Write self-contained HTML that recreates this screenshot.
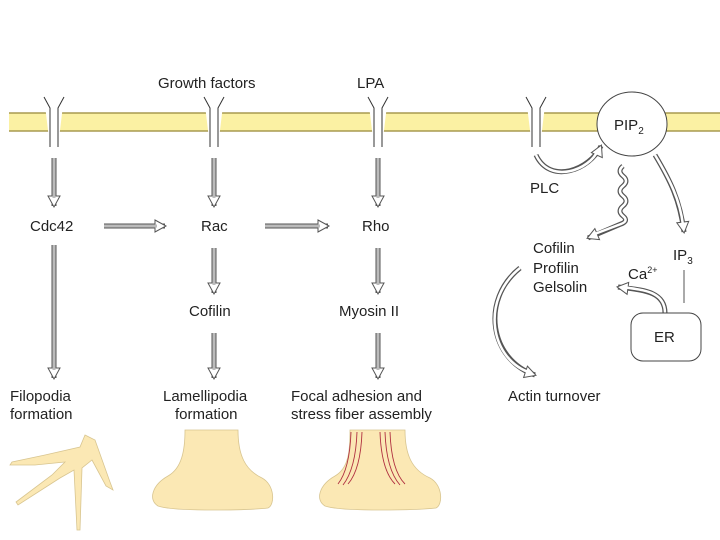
<!DOCTYPE html>
<html><head><style>body{margin:0;background:#fff}svg{display:block}text{font-family:"Liberation Sans",sans-serif;font-size:15px;fill:#222}</style></head><body>
<svg width="720" height="540" viewBox="0 0 720 540">
<defs>
<marker id="ah" markerWidth="14" markerHeight="14" refX="11" refY="7" orient="auto" markerUnits="userSpaceOnUse"><path d="M1,1 L12,7 L1,13 Z" fill="#fff" stroke="#555" stroke-width="1"/></marker>
</defs>
<rect x="9" y="113" width="711" height="18" fill="#fbf1a3"/>
<line x1="9" y1="113" x2="720" y2="113" stroke="#a89a50" stroke-width="1.5"/>
<line x1="9" y1="131" x2="720" y2="131" stroke="#a89a50" stroke-width="1.5"/>
<g fill="#fff" stroke="#333" stroke-width="1">
<g transform="translate(54,0)"><rect x="-4" y="108" width="8" height="39" stroke="none"/><path d="M-4,147 V108 L-10,97 M4,147 V108 L10,97"/></g>
<g transform="translate(214,0)"><rect x="-4" y="108" width="8" height="39" stroke="none"/><path d="M-4,147 V108 L-10,97 M4,147 V108 L10,97"/></g>
<g transform="translate(378,0)"><rect x="-4" y="108" width="8" height="39" stroke="none"/><path d="M-4,147 V108 L-10,97 M4,147 V108 L10,97"/></g>
<g transform="translate(536,0)"><rect x="-4" y="108" width="8" height="39" stroke="none"/><path d="M-4,147 V108 L-10,97 M4,147 V108 L10,97"/></g>
</g>
<text x="158" y="88">Growth factors</text>
<text x="357" y="88">LPA</text>
<ellipse cx="632" cy="124" rx="35" ry="32" fill="#fff" stroke="#444"/>
<text x="614" y="130">PIP<tspan font-size="10" dy="4">2</tspan></text>
<g fill="none" stroke="#555" stroke-width="5" marker-end="url(#ah)">
<path d="M54,158 V206"/><path d="M214,158 V206"/><path d="M378,158 V206"/>
<path d="M104,226 H165"/><path d="M265,226 H328"/>
<path d="M214,248 V293"/><path d="M378,248 V293"/>
<path d="M214,333 V378"/><path d="M378,333 V378"/>
<path d="M54,245 V378"/>
<path d="M536,155 C550,185 590,170 601,146"/>
<path d="M655,155 C670,180 680,200 684,232"/>
<path d="M520,268 C480,300 490,360 535,375"/>
<path d="M665,313 C665,290 640,290 618,287"/>
<path d="M623,166 q-6,5 0,10 q6,5 0,10 q-6,5 0,10 q6,5 0,10 q-6,5 0,10 q6,5 -2,8 L588,238"/>
</g>
<g fill="none" stroke="#bbb" stroke-width="3">
<path d="M54,158 V198"/><path d="M214,158 V198"/><path d="M378,158 V198"/>
<path d="M104,226 H157"/><path d="M265,226 H320"/>
<path d="M214,248 V285"/><path d="M378,248 V285"/>
<path d="M214,333 V370"/><path d="M378,333 V370"/>
<path d="M54,245 V370"/>
</g>
<g fill="none" stroke="#fff" stroke-width="2.5">
<path d="M536,155 C550,185 590,170 598,150"/>
<path d="M655,155 C670,180 680,200 683,225"/>
<path d="M520,268 C480,300 490,360 531,373"/>
<path d="M665,313 C665,290 640,290 623,287"/>
<path d="M623,166 q-6,5 0,10 q6,5 0,10 q-6,5 0,10 q6,5 0,10 q-6,5 0,10 q6,5 -2,8 L592,235"/>
</g>
<line x1="684" y1="270" x2="684" y2="303" stroke="#555"/>
<rect x="631" y="313" width="70" height="48" rx="12" fill="#fff" stroke="#444"/>
<text x="654" y="342">ER</text>
<text x="30" y="231">Cdc42</text>
<text x="201" y="231">Rac</text>
<text x="362" y="231">Rho</text>
<text x="189" y="316">Cofilin</text>
<text x="339" y="316">Myosin II</text>
<text x="530" y="193">PLC</text>
<text x="533" y="253">Cofilin</text>
<text x="533" y="273">Profilin</text>
<text x="533" y="292">Gelsolin</text>
<text x="673" y="260">IP<tspan font-size="10" dy="4">3</tspan></text>
<text x="628" y="279" font-size="14">Ca<tspan font-size="9" dy="-6">2+</tspan></text>
<text x="508" y="401">Actin turnover</text>
<text x="10" y="401">Filopodia</text><text x="10" y="419">formation</text>
<text x="163" y="401">Lamellipodia</text><text x="175" y="419">formation</text>
<text x="291" y="401">Focal adhesion and</text><text x="291" y="419">stress fiber assembly</text>
<g fill="#fbe8b4" stroke="#d8c590" stroke-width="0.8">
<path d="M85,435 L95,440 L110,482 L113,490 L106,486 L92,460 L82,468 L80,530 L77,530 L74,470 L60,478 L18,505 L16,502 L52,475 L65,462 L35,465 L10,465 L12,462 L45,455 L80,447 Z"/>
<path d="M185,430 H238 C238,455 245,470 262,478 C275,485 275,505 268,508 C250,510 175,512 158,506 C148,500 152,485 168,476 C182,468 185,450 185,430 Z"/>
<path d="M350,430 H405 C405,455 412,470 430,478 C443,485 443,505 436,508 C418,510 342,512 325,506 C315,500 319,485 335,476 C349,468 350,450 350,430 Z"/>
</g>
<g fill="none" stroke="#b03040" stroke-width="0.9">
<path d="M351,432 C350,460 345,475 338,484"/><path d="M357,432 C356,460 350,476 343,485"/><path d="M362,432 C361,460 355,476 348,484"/>
<path d="M380,432 C381,460 387,476 395,484"/><path d="M385,432 C386,460 392,476 400,485"/><path d="M390,432 C391,460 397,476 405,484"/>
</g>
</svg>
</body></html>
